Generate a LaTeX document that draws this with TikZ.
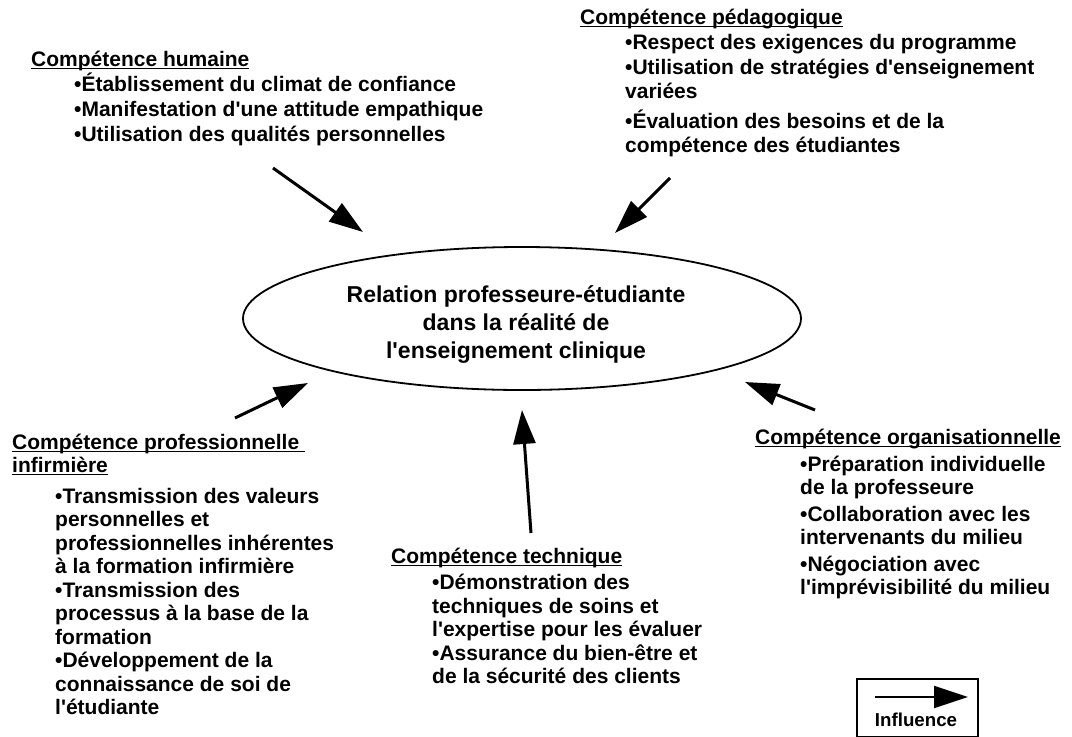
\documentclass[tikz,border=0pt]{standalone}
\usepackage{fontspec}
\setmainfont{Liberation Sans}
\usetikzlibrary{arrows.meta,shapes.geometric}
\newcommand\ulin[1]{\setbox0\hbox{#1}\rlap{\rule[-3pt]{\wd0}{1.5pt}}\box0}
\newcommand\ap{\textquotesingle}
\begin{document}
\begin{tikzpicture}[x=1pt,y=-1pt,
  txt/.style={inner sep=0pt,anchor=base west,font=\bfseries\fontsize{21}{24}\selectfont},
  ctr/.style={inner sep=0pt,anchor=base,font=\bfseries\fontsize{23}{27}\selectfont},
  arr/.style={line width=3pt,-{Triangle[length=34pt,width=22pt]}},
  rel/.style={ellipse,draw,line width=1.8pt,minimum width=558pt,minimum height=143pt,inner sep=0pt}]
\useasboundingbox (0,0) rectangle (1072,737);
% central ellipse
\node[rel] (E) at (522,318.5) {};
\node[ctr] (e1) at (516,302) {Relation professeure-étudiante};
\node[ctr] (e2) at (516,330) {dans la réalité de};
\node[ctr] (e3) at (516,358) {l\ap enseignement clinique};
% humaine
\node[txt] (h0) at (31,66) {\ulin{Compétence humaine}};
\node[txt] (h1) at (74,91) {•Établissement du climat de confiance};
\node[txt] (h2) at (74,116) {•Manifestation d\ap une attitude empathique};
\node[txt] (h3) at (74,141) {•Utilisation des qualités personnelles};
% pedagogique
\node[txt] (p0) at (580,24) {\ulin{Compétence pédagogique}};
\node[txt] (p1) at (625,49) {•Respect des exigences du programme};
\node[txt] (p2) at (625,74) {•Utilisation de stratégies d\ap enseignement};
\node[txt] (p3) at (625,98) {variées};
\node[txt] (p4) at (625,128) {•Évaluation des besoins et de la};
\node[txt] (p5) at (625,152) {compétence des étudiantes};
% professionnelle
\node[txt] (f0) at (12,449) {\ulin{Compétence professionnelle\ }};
\node[txt] (f1) at (12,472) {\ulin{infirmière}};
\node[txt] (f2) at (55,503) {•Transmission des valeurs};
\node[txt] (f3) at (55,526.5) {personnelles et};
\node[txt] (f4) at (55,550) {professionnelles inhérentes};
\node[txt] (f5) at (55,573.5) {à la formation infirmière};
\node[txt] (f6) at (55,597) {•Transmission des};
\node[txt] (f7) at (55,620.5) {processus à la base de la};
\node[txt] (f8) at (55,644) {formation};
\node[txt] (f9) at (55,667.5) {•Développement de la};
\node[txt] (f10) at (55,691) {connaissance de soi de};
\node[txt] (f11) at (55,714.5) {l\ap étudiante};
% technique
\node[txt] (t0) at (391,563) {\ulin{Compétence technique}};
\node[txt] (t1) at (432,589) {•Démonstration des};
\node[txt] (t2) at (432,613) {techniques de soins et};
\node[txt] (t3) at (432,636) {l\ap expertise pour les évaluer};
\node[txt] (t4) at (432,660) {•Assurance du bien-être et};
\node[txt] (t5) at (432,683) {de la sécurité des clients};
% organisationnelle
\node[txt] (o0) at (755,444) {\ulin{Compétence organisationnelle}};
\node[txt] (o1) at (800,471) {•Préparation individuelle};
\node[txt] (o2) at (800,494) {de la professeure};
\node[txt] (o3) at (800,521) {•Collaboration avec les};
\node[txt] (o4) at (800,544) {intervenants du milieu};
\node[txt] (o5) at (800,571) {•Négociation avec};
\node[txt] (o6) at (800,594) {l\ap imprévisibilité du milieu};
% arrows
\coordinate (ah1) at (273,168); \coordinate (ah2) at (363,232);
\coordinate (ap1) at (670,178); \coordinate (ap2) at (615,233);
\coordinate (af1) at (235,418); \coordinate (af2) at (308,383);
\coordinate (at1) at (531,533); \coordinate (at2) at (522,410);
\coordinate (ao1) at (815,410); \coordinate (ao2) at (745,382);
\draw[arr] (ah1) -- (ah2);
\draw[arr] (ap1) -- (ap2);
\draw[arr] (af1) -- (af2);
\draw[arr] (at1) -- (at2);
\draw[arr] (ao1) -- (ao2);
% legend
\node[draw,line width=2pt,minimum width=121pt,minimum height=58pt,inner sep=0pt] (L) at (917.5,708) {};
\coordinate (l1) at (875,697); \coordinate (l2) at (968,697);
\draw[line width=2pt,-{Triangle[length=34pt,width=22pt]}] (l1) -- (l2);
\node[inner sep=0pt,anchor=base,font=\bfseries\fontsize{18.7}{22}\selectfont] (lt) at (916,726) {Influence};
\end{tikzpicture}
\end{document}
